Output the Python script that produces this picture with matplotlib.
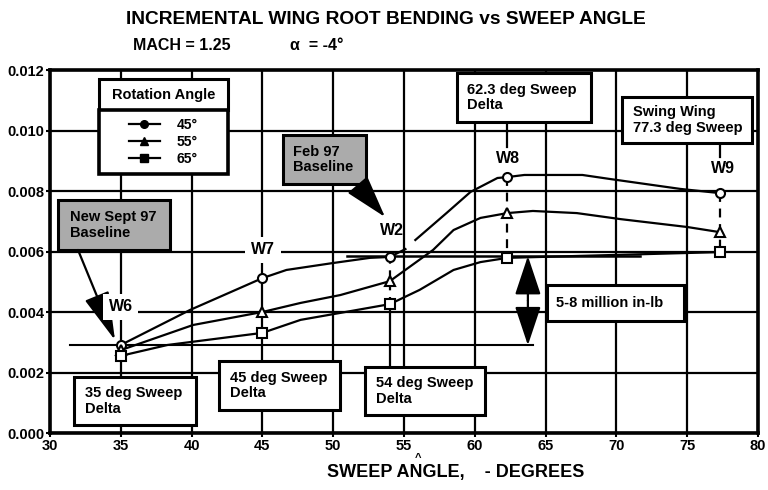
import numpy as np
import matplotlib
matplotlib.use('Agg')
import matplotlib.pyplot as plt
from matplotlib.patches import Rectangle
from matplotlib.ticker import FormatStrFormatter

plt.rcParams['font.family'] = ['Liberation Sans', 'DejaVu Sans']
plt.rcParams['font.weight'] = 'bold'

# posicoes das asas (graus de enflechamento)
VARREDURA = [35, 45, 54, 62.3, 77.3]
ROTULOS_ASA = ['W6', 'W7', 'W2', 'W8', 'W9']

# valores nos marcadores, por angulo de rotacao
ROT_45 = [0.00291, 0.00512, 0.00582, 0.00846, 0.00793]
ROT_55 = [0.00274, 0.00400, 0.00502, 0.00727, 0.00664]
ROT_65 = [0.00255, 0.00331, 0.00426, 0.00578, 0.00598]

# tracado das curvas
TRACO_45_X = [35, 39.9, 43.4, 45, 46.7, 50.0, 52.6, 54, 55.1, np.nan, 55.8, 58.0, 59.7, 61.6, 62.3, 63.5, 67.6, 69.5, 74.5, 77.3]
TRACO_45_Y = [2.91, 4.07, 4.79, 5.12, 5.39, 5.62, 5.79, 5.82, 6.08, np.nan, 6.38, 7.27, 7.97, 8.43, 8.46, 8.53, 8.53, 8.40, 8.07, 7.93]
TRACO_55_X = [35, 40.1, 45, 47.7, 50.5, 54, 57.05, 58.5, 60.4, 62.3, 64.1, 67.2, 70.3, 75.0, 77.3]
TRACO_55_Y = [2.74, 3.57, 4.00, 4.30, 4.56, 5.02, 6.05, 6.71, 7.11, 7.27, 7.34, 7.27, 7.07, 6.81, 6.64]
TRACO_65_X = [35, 38.3, 45, 47.7, 50.5, 54, 56.1, 58.5, 60.4, 62.3, 77.3]
TRACO_65_Y = [2.55, 2.91, 3.31, 3.74, 3.97, 4.26, 4.73, 5.39, 5.65, 5.79, 5.98]

BASE_SET97 = 0.0029
BASE_FEV97 = 0.00585

ANGULOS = ['45°', '55°', '65°']
MARCADORES = ['o', '^', 's']


def caixa(ax, x0, x1, y0, y1, texto, tx, cinza=False):
    ax.add_patch(Rectangle((x0, y0), x1 - x0, y1 - y0,
                           facecolor='#ababab' if cinza else 'white',
                           edgecolor='black', lw=2.2, zorder=5))
    ax.text(tx, (y0 + y1) / 2, texto, ha='left', va='center', fontsize=10.5,
            fontweight='bold', zorder=6, linespacing=1.15)


def seta(ax, inicio, fim, estilo='-|>', hl=1.3, hw=0.4):
    ax.annotate('', xy=fim, xytext=inicio, zorder=7,
                arrowprops=dict(arrowstyle=f'{estilo},head_length={hl},head_width={hw}',
                                mutation_scale=18, lw=1.6, color='black',
                                shrinkA=0, shrinkB=0))


fig = plt.figure(figsize=(7.68, 4.9), dpi=100)
ax = fig.add_axes([50 / 768, 57 / 490, 708 / 768, 363 / 490])

ax.set_xlim(30, 80)
ax.set_ylim(0, 0.012)
ax.set_xticks(range(30, 81, 5))
ax.set_yticks(np.arange(0, 0.0121, 0.002))
ax.yaxis.set_major_formatter(FormatStrFormatter('%.3f'))
ax.tick_params(labelsize=10.5, length=3, width=1.5, pad=1)
for rot in ax.get_xticklabels() + ax.get_yticklabels():
    rot.set_fontweight('bold')
ax.grid(True, color='black', lw=1.6)
ax.set_axisbelow(True)
for sp in ax.spines.values():
    sp.set_linewidth(2.6)

# curvas
tracos = [(TRACO_45_X, TRACO_45_Y), (TRACO_55_X, TRACO_55_Y), (TRACO_65_X, TRACO_65_Y)]
valores = [ROT_45, ROT_55, ROT_65]
alcas = []
for (tx, ty), vals, marc, nome in zip(tracos, valores, MARCADORES, ANGULOS):
    ax.plot(tx, np.array(ty) / 1000, color='black', lw=1.6, zorder=3)
    ax.plot(VARREDURA, vals, ls='none', marker=marc, ms=6.5, mfc='white',
            mec='black', mew=1.5, zorder=4)
    h, = ax.plot([], [], color='black', lw=1.6, marker=marc, ms=5.5,
                 mfc='black', mec='black', label=nome)
    alcas.append(h)

# linhas verticais das asas
ax.plot([VARREDURA[2]] * 2, [ROT_45[2], ROT_65[2]], color='black', lw=1.6, ls=(0, (3, 3)), zorder=2.5)
ax.plot([VARREDURA[2]] * 2, [ROT_65[2], 0.00218], color='black', lw=1.6, zorder=2.5)
ax.plot([VARREDURA[3]] * 2, [ROT_45[3], ROT_65[3]], color='black', lw=1.6, ls=(0, (4, 3)), zorder=2.5)
ax.plot([VARREDURA[3]] * 2, [0.01028, 0.00945], color='black', lw=1.6, zorder=2.5)
ax.plot([VARREDURA[4]] * 2, [ROT_45[4], ROT_65[4]], color='black', lw=1.6, ls=(0, (4, 3)), zorder=2.5)
ax.plot([VARREDURA[4]] * 2, [0.00959, 0.00912], color='black', lw=1.6, zorder=2.5)

# linhas de referencia das bases
ax.plot([31.4, 64.1], [BASE_SET97] * 2, color='black', lw=1.5, zorder=2.5)
ax.plot([51.0, 71.7], [BASE_FEV97] * 2, color='black', lw=1.8, zorder=2.5)
seta(ax, (63.75, (BASE_SET97 + BASE_FEV97) / 2), (63.75, BASE_FEV97), hl=1.35, hw=0.45)
seta(ax, (63.75, (BASE_SET97 + BASE_FEV97) / 2), (63.75, BASE_SET97), hl=1.35, hw=0.45)

# rotulos das asas
pos_rotulos = [(35.0, 0.00417), (45.04, 0.00605), (54.15, 0.00671), (62.34, 0.00909), (77.5, 0.00876)]
for (px, py), rot in zip(pos_rotulos, ROTULOS_ASA):
    fundo = dict(facecolor='white', edgecolor='none', pad=4) if rot in ('W6', 'W7') else None
    ax.text(px, py, rot, ha='center', va='center', fontsize=11.5, fontweight='bold',
            zorder=8, bbox=fundo)

# caixas de texto
caixa(ax, 31.69, 40.31, 0.00026, 0.00185, '35 deg Sweep\nDelta', 32.5)
caixa(ax, 41.94, 50.48, 0.00076, 0.00238, '45 deg Sweep\nDelta', 42.7)
caixa(ax, 52.25, 60.72, 0.00060, 0.00218, '54 deg Sweep\nDelta', 53.0)
caixa(ax, 58.74, 68.21, 0.01028, 0.01190, '62.3 deg Sweep\nDelta', 59.45)
caixa(ax, 70.40, 79.58, 0.00959, 0.01111, 'Swing Wing\n77.3 deg Sweep', 71.17)
caixa(ax, 65.10, 74.77, 0.00370, 0.00489, '5-8 million in-lb', 65.75)
caixa(ax, 30.56, 38.47, 0.00605, 0.00770, 'New Sept 97\nBaseline', 31.4, cinza=True)
caixa(ax, 46.45, 52.32, 0.00823, 0.00985, 'Feb 97\nBaseline', 47.16, cinza=True)

seta(ax, (31.98, 0.00605), (34.59, 0.00307), hl=1.7, hw=0.45)
seta(ax, (51.68, 0.00823), (53.66, 0.00714), hl=1.5, hw=0.45)

# legenda
ax.add_patch(Rectangle((33.46, 0.01068), 42.57 - 33.46, 0.01170 - 0.01068,
                       facecolor='white', edgecolor='black', lw=2.2, zorder=5))
ax.text(38.0, 0.01119, 'Rotation Angle', ha='center', va='center', fontsize=10.5,
        fontweight='bold', zorder=6)
ax.add_patch(Rectangle((33.46, 0.00856), 42.57 - 33.46, 0.01068 - 0.00856,
                       facecolor='white', edgecolor='black', lw=2.6, zorder=5))
leg = ax.legend(handles=alcas, loc='center', bbox_to_anchor=(38.0, 0.00962),
                bbox_transform=ax.transData, frameon=False, fontsize=10,
                handlelength=2.2, handletextpad=1.2, labelspacing=0.2)
leg.set_zorder(7)
for t in leg.get_texts():
    t.set_fontweight('bold')

# titulos
fig.text(386 / 768, 1 - 20 / 490, 'INCREMENTAL WING ROOT BENDING vs SWEEP ANGLE',
         ha='center', va='center', fontsize=13.8, fontweight='bold')
fig.text(133 / 768, 1 - 46 / 490, 'MACH = 1.25', ha='left', va='center',
         fontsize=11.5, fontweight='bold')
fig.text(290 / 768, 1 - 46 / 490, 'α  = -4°', ha='left', va='center',
         fontsize=11.5, fontweight='bold')
fig.text(456 / 768, 1 - 472 / 490, 'SWEEP ANGLE,    - DEGREES', ha='center',
         va='center', fontsize=13, fontweight='bold')
fig.text(418 / 768, 1 - 458 / 490, '^', ha='center', va='center', fontsize=8,
         fontweight='bold')

fig.savefig('out.png', dpi=100)
